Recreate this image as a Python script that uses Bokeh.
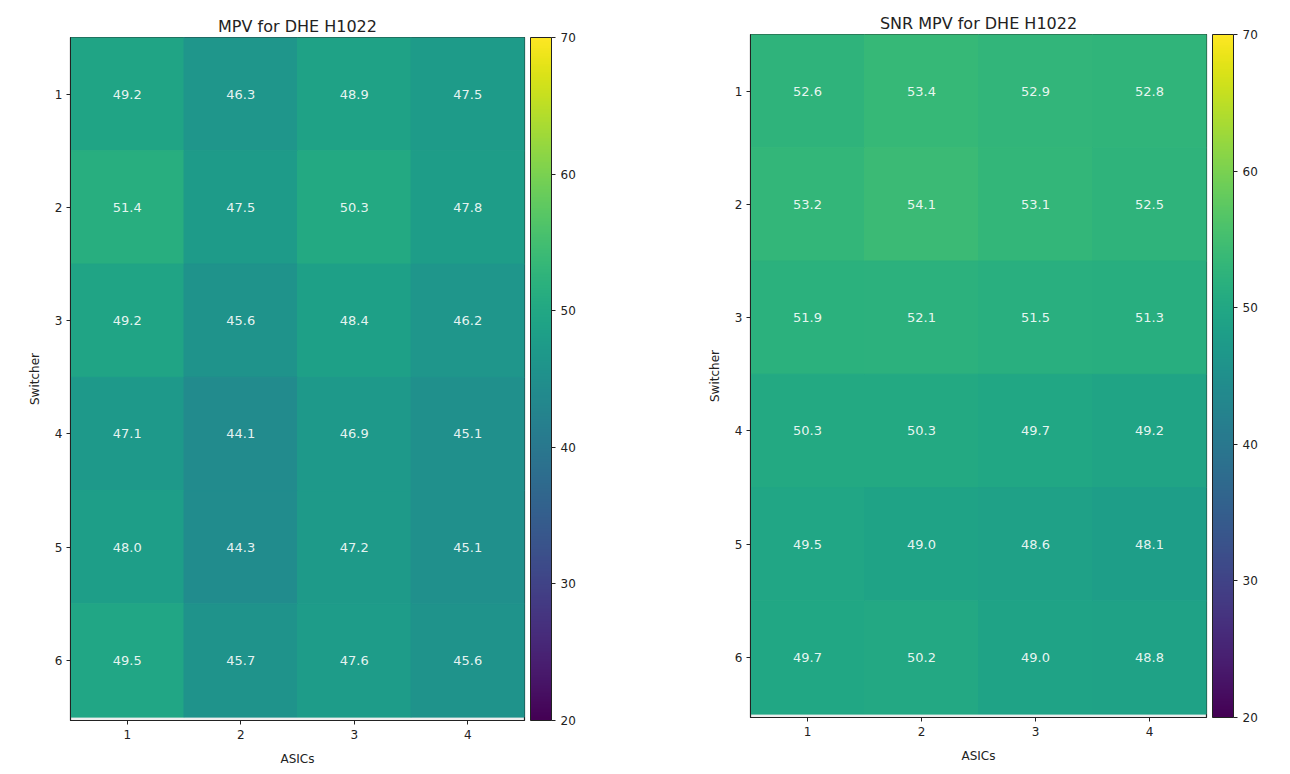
from bokeh.plotting import figure
from bokeh.models import (LinearColorMapper, ColorBar, FixedTicker, ColumnDataSource,
                          Range1d)
from bokeh.layouts import row
from bokeh.palettes import Viridis256
from bokeh.embed import file_html
from bokeh.resources import INLINE
from bokeh.core.properties import value

asics = [1, 2, 3, 4]
switchers = [1, 2, 3, 4, 5, 6]

mpv = [
    [49.2, 46.3, 48.9, 47.5],
    [51.4, 47.5, 50.3, 47.8],
    [49.2, 45.6, 48.4, 46.2],
    [47.1, 44.1, 46.9, 45.1],
    [48.0, 44.3, 47.2, 45.1],
    [49.5, 45.7, 47.6, 45.6],
]
snr_mpv = [
    [52.6, 53.4, 52.9, 52.8],
    [53.2, 54.1, 53.1, 52.5],
    [51.9, 52.1, 51.5, 51.3],
    [50.3, 50.3, 49.7, 49.2],
    [49.5, 49.0, 48.6, 48.1],
    [49.7, 50.2, 49.0, 48.8],
]
cbar_ticks = [20, 30, 40, 50, 60, 70]
FONT = "DejaVu Sans"


def make_panel(title, data, border_left, border_top, fw, border_right, margin):
    xs, ys, vals, labels = [], [], [], []
    for i, s in enumerate(switchers):
        for j, a in enumerate(asics):
            xs.append(a)
            ys.append(s)
            vals.append(data[i][j])
            labels.append(f"{data[i][j]:.1f}")
    src = ColumnDataSource(dict(x=xs, y=ys, v=vals, label=labels))
    mapper = LinearColorMapper(palette=Viridis256, low=20, high=70)

    p = figure(frame_width=fw, frame_height=683, output_backend="svg",
               toolbar_location=None, title=title,
               x_range=Range1d(0.5, 4.5), y_range=Range1d(6.53, 0.5),
               min_border_left=border_left, min_border_top=border_top,
               min_border_right=border_right, min_border_bottom=10,
               background_fill_color="#eeeeee", margin=margin)
    p.rect(x="x", y="y", width=1, height=1, source=src,
           fill_color={"field": "v", "transform": mapper},
           line_color={"field": "v", "transform": mapper}, line_width=1)
    p.text(x="x", y="y", text="label", source=src, text_align="center",
           text_baseline="middle", text_color="white", text_alpha=0.9,
           text_font=value(FONT), text_font_size="13px")

    p.title.align = "center"
    p.title.text_font = FONT
    p.title.text_font_size = "16px"
    p.title.text_font_style = "normal"
    p.title.text_color = "#222222"
    p.title.standoff = 4

    p.xgrid.visible = False
    p.ygrid.visible = False
    p.outline_line_color = "#222222"
    p.outline_line_width = 1.2
    for ax in (p.xaxis[0], p.yaxis[0]):
        ax.minor_tick_line_color = None
        ax.major_tick_out = 4
        ax.major_tick_in = 0
        ax.major_tick_line_color = "#222222"
        ax.axis_line_color = "#222222"
        ax.major_label_text_font = FONT
        ax.major_label_text_font_size = "12px"
        ax.major_label_text_color = "#222222"
        ax.axis_label_text_font = FONT
        ax.axis_label_text_font_size = "12px"
        ax.axis_label_text_font_style = "normal"
        ax.axis_label_text_color = "#222222"
        ax.axis_label_standoff = 10
    p.yaxis.major_label_standoff = 4
    p.xaxis.axis_label = "ASICs"
    p.yaxis.axis_label = "Switcher"
    p.xaxis.ticker = FixedTicker(ticks=asics)
    p.yaxis.ticker = FixedTicker(ticks=switchers)

    cb = ColorBar(color_mapper=mapper, ticker=FixedTicker(ticks=cbar_ticks),
                  width=21, height=683, padding=0, margin=0,
                  bar_line_color="#222222", bar_line_width=1,
                  major_tick_out=4, major_tick_in=0,
                  major_tick_line_color="#222222",
                  major_label_text_font=FONT,
                  major_label_text_font_size="12px",
                  major_label_text_color="#222222",
                  border_line_color=None, background_fill_color=None,
                  location=(6, 0))
    p.add_layout(cb, "right")
    return p


p1 = make_panel("MPV for DHE H1022", mpv, 70, 34, 454, 100, (3, 0, 0, 0))
p2 = make_panel("SNR MPV for DHE H1022", snr_mpv, 126, 34, 456, 50, (0, 0, 0, 0))
layout = row(p1, p2)

open("out.html", "w").write(file_html(layout, INLINE))
